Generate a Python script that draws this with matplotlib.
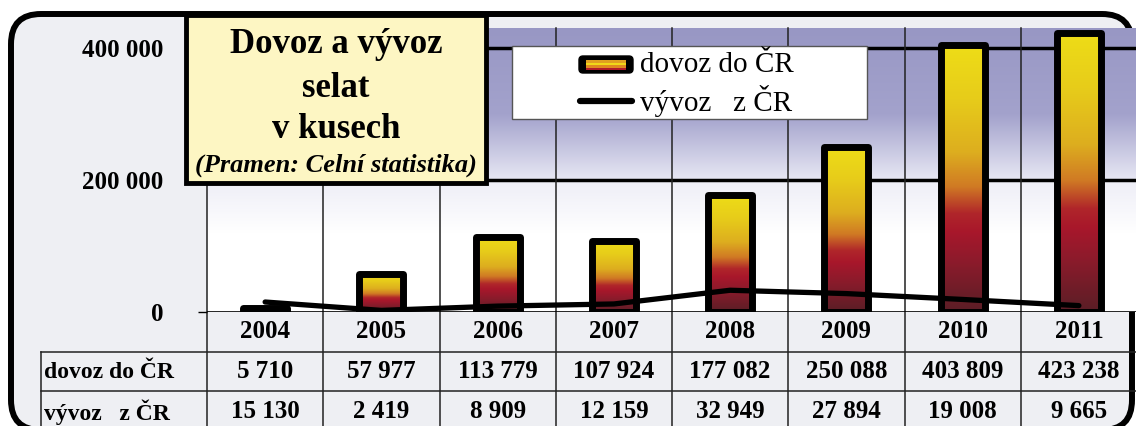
import numpy as np
import matplotlib
matplotlib.use('Agg')
import matplotlib.pyplot as plt
from matplotlib.colors import LinearSegmentedColormap, to_rgb
from matplotlib.patches import FancyBboxPatch, Rectangle
from matplotlib.lines import Line2D
from matplotlib.transforms import IdentityTransform

# data
years = ['2004', '2005', '2006', '2007', '2008', '2009', '2010', '2011']
dovoz = [5710, 57977, 113779, 107924, 177082, 250088, 403809, 423238]
vyvoz = [15130, 2419, 8909, 12159, 32949, 27894, 19008, 9665]
row_names = ['dovoz do ČR', 'vývoz   z ČR']
yticks = [0, 200000, 400000]

plt.rcParams['font.family'] = ['Liberation Serif', 'DejaVu Serif']
plt.rcParams['font.weight'] = 'bold'

W, H = 1136, 426
fig = plt.figure(figsize=(W / 100, H / 100), dpi=100)
fig.patch.set_facecolor('white')

def fmt(v):
    return f'{v:,}'.replace(',', ' ')

# marble-ish frame (pixel coords, origin bottom-left), bottom edge runs off the picture
marble = '#eeeff3'
frame = FancyBboxPatch((11, -4), 1121, 416, boxstyle='round,pad=0,rounding_size=30',
                       transform=IdentityTransform(), fc=marble, ec='black', lw=4.3, zorder=-1)
fig.add_artist(frame)

# main axes
ax = fig.add_axes([207 / W, (H - 312) / H, 930 / W, 284 / H])
ax.set_facecolor('none')
ymax = 284 / 132 * 200000
x = np.arange(len(years))

# background gradient of plot area
stops_v = [0, 120000, 198000, 202000, 300000, ymax]
stops_c = ['#ffffff', '#ffffff', '#eeeef7', '#e6e6f3', '#a3a2cc', '#9897c4']
yy = np.linspace(0, ymax, 400)
rgb = np.array([to_rgb(c) for c in stops_c])
img = np.stack([np.interp(yy, stops_v, rgb[:, k]) for k in range(3)], axis=-1)[:, None, :]
ax.imshow(img, origin='lower', extent=(-0.5, 7.5, 0, ymax), aspect='auto', zorder=0)

# grid
for yv in yticks[1:]:
    ax.axhline(yv, color='black', lw=2.5, zorder=1)
ax.axhline(0, color='black', lw=1.2, zorder=1.5)
for b in np.arange(-0.5, len(years) + 0.5):
    ax.plot([b, b], [-0.5, 1], transform=ax.get_xaxis_transform(), color='#222222',
            lw=1.1, clip_on=False, zorder=1)

# bars with gradient fill
cmap = LinearSegmentedColormap.from_list('bar', [
    (0, '#5a1e26'), (0.18, '#8a1b2b'), (0.3, '#a8172b'), (0.37, '#b0262a'),
    (0.47, '#d07a24'), (0.6, '#ddae1f'), (0.8, '#e7cc1a'), (1, '#eedd17')])
grad = np.linspace(0, 1, 256).reshape(-1, 1)
bw = 0.38
for i, v in enumerate(dovoz):
    ax.imshow(grad, cmap=cmap, origin='lower', extent=(i - bw / 2, i + bw / 2, 0, v),
              aspect='auto', zorder=2)
ax.bar(x, dovoz, width=bw, fc='none', ec='black', lw=5, joinstyle='round', zorder=3)

# export line
ax.plot(x, vyvoz, color='black', lw=3.8, solid_joinstyle='round', solid_capstyle='round', zorder=4)

ax.set_xlim(-0.5, 7.5)
ax.set_ylim(0, ymax)
ax.set_xticks([])
ax.set_yticks(yticks)
ax.set_yticklabels([fmt(v) for v in yticks])
ax.tick_params(axis='y', length=6.5, width=1, pad=25, labelsize=18)
for s in ax.spines.values():
    s.set_visible(False)

# data table below the axis
def fy(p):
    return -(p - 312) / 284

tr = ax.get_xaxis_transform()
xl = -0.5 - 166 / 116.25
for yp in [352, 391]:
    ax.plot([xl, 7.5], [fy(yp), fy(yp)], transform=tr, color='#222222', lw=1.1, clip_on=False)
ax.plot([xl, xl], [fy(352), -0.5], transform=tr, color='#222222', lw=1.1, clip_on=False)
for i, yr in enumerate(years):
    ax.text(i, fy(332), yr, transform=tr, ha='center', va='center', fontsize=18, clip_on=False)
    ax.text(i, fy(372), fmt(dovoz[i]), transform=tr, ha='center', va='center', fontsize=18, clip_on=False)
    ax.text(i, fy(412), fmt(vyvoz[i]), transform=tr, ha='center', va='center', fontsize=18, clip_on=False)
xh = -0.5 - 163 / 116.25
ax.text(xh, fy(372), row_names[0], transform=tr, ha='left', va='center', fontsize=17, clip_on=False)
ax.text(xh, fy(412), row_names[1], transform=tr, ha='left', va='center', fontsize=17, clip_on=False)

# title box
tbox = Rectangle((186, H - 183), 300, 168, transform=IdentityTransform(),
                 fc='#fdf6c3', ec='black', lw=3.5, zorder=3)
fig.add_artist(tbox)
fig.text(336 / W, 1 - 53 / H, 'Dovoz a vývoz', ha='center', va='baseline', fontsize=25, zorder=4)
fig.text(336 / W, 1 - 97 / H, 'selat', ha='center', va='baseline', fontsize=25, zorder=4)
fig.text(336 / W, 1 - 138 / H, 'v kusech', ha='center', va='baseline', fontsize=25, zorder=4)
fig.text(336 / W, 1 - 172 / H, '(Pramen: Celní statistika)', ha='center', va='baseline',
         fontsize=19, style='italic', zorder=4)

# legend box
lbox = Rectangle((512, H - 119), 355, 73, transform=IdentityTransform(),
                 fc='white', ec='#555555', lw=1, zorder=3)
fig.add_artist(lbox)
lpatch = FancyBboxPatch((579, H - 73), 54, 17, boxstyle='round,pad=0,rounding_size=4',
                        transform=IdentityTransform(), fc='black', ec='black', lw=1, zorder=4)
fig.add_artist(lpatch)
for k, c in enumerate(['#b01c28', '#e08a20', '#f0d818', '#e0a020']):
    fig.add_artist(Rectangle((586, H - 70 + k * 2.5), 40, 2.5, transform=IdentityTransform(),
                             fc=c, ec='none', zorder=5))
fig.add_artist(Line2D([580, 632], [H - 101, H - 101], transform=IdentityTransform(),
                      color='black', lw=4.5, solid_capstyle='round', zorder=4))
fig.text(640 / W, 1 - 65 / H, 'dovoz do ČR', ha='left', va='center', fontsize=21,
         fontweight='normal', zorder=4)
fig.text(640 / W, 1 - 101 / H, 'vývoz   z ČR', ha='left', va='center', fontsize=21,
         fontweight='normal', zorder=4)

fig.savefig('out.png', dpi=100)
